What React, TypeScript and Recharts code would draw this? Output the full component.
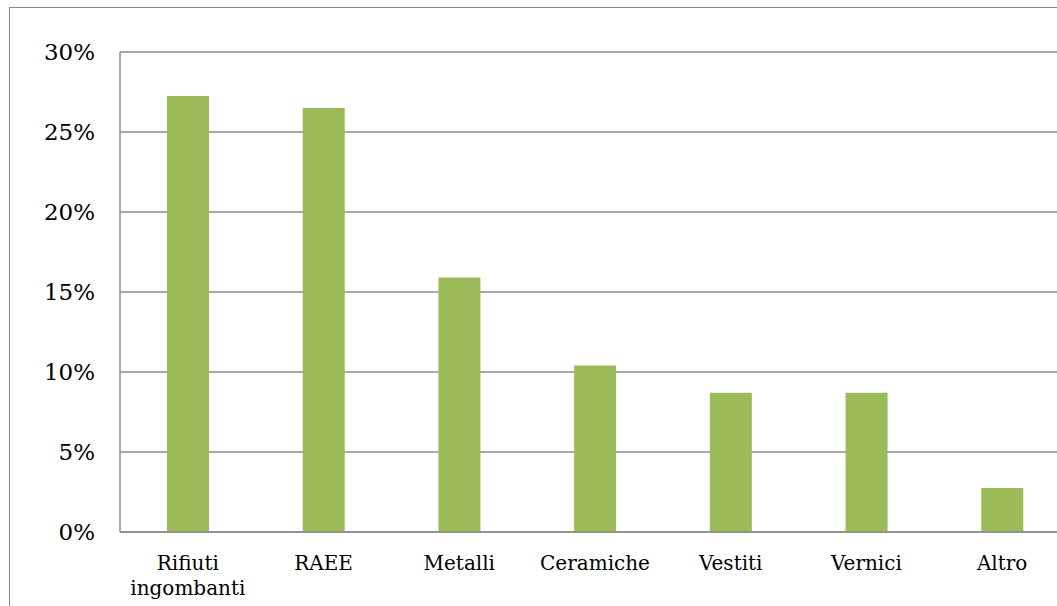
import { BarChart, Bar, XAxis, YAxis, CartesianGrid } from 'recharts'

const categories = ['Rifiuti ingombanti', 'RAEE', 'Metalli', 'Ceramiche', 'Vestiti', 'Vernici', 'Altro']
const shares = [0.2725, 0.265, 0.159, 0.104, 0.087, 0.087, 0.0275]
const yTicks = [0, 0.05, 0.1, 0.15, 0.2, 0.25, 0.3]

const data = categories.map((name, i) => ({ name, value: shares[i] }))

const FONT = '"DejaVu Serif", serif'

function CategoryTick(props: any) {
    const { x, y, payload } = props
    const lines = String(payload.value).split(' ')
    return (
        <text x={x} y={y} textAnchor="middle" fontFamily={FONT} fontSize={20} fill="#000">
            {lines.map((l, i) => (
                <tspan key={i} x={x} dy={i === 0 ? 30 : 25}>{l}</tspan>
            ))}
        </text>
    )
}

export default function App() {
    return (
        <div style={{ position: 'absolute', left: 0, top: 0, width: 1057, height: 606, overflow: 'hidden', background: '#fff' }}>
            <div style={{ position: 'absolute', left: 9, top: 7, width: 1200, height: 800, border: '1.5px solid #8a8a8a' }} />
            <div style={{ position: 'absolute', left: 0, top: 0 }}>
                <BarChart width={1080} height={606} data={data} margin={{ top: 52, right: 10, bottom: 44, left: 0 }}>
                    <CartesianGrid vertical={false} stroke="#8c8c8c" strokeWidth={1.5} />
                    <XAxis
                        dataKey="name"
                        height={30}
                        tick={<CategoryTick />}
                        tickLine={false}
                        axisLine={{ stroke: '#8c8c8c', strokeWidth: 1.5 }}
                        interval={0}
                    />
                    <YAxis
                        width={120}
                        domain={[0, 0.3]}
                        ticks={yTicks}
                        tickFormatter={(v: number) => `${Math.round(v * 100)}%`}
                        tick={{ fontFamily: FONT, fontSize: 23, fill: '#000' }}
                        tickLine={false}
                        tickMargin={19}
                        axisLine={{ stroke: '#8c8c8c', strokeWidth: 1.5 }}
                    />
                    <Bar dataKey="value" fill="#9BBB59" barSize={42} isAnimationActive={false} />
                </BarChart>
            </div>
        </div>
    )
}
